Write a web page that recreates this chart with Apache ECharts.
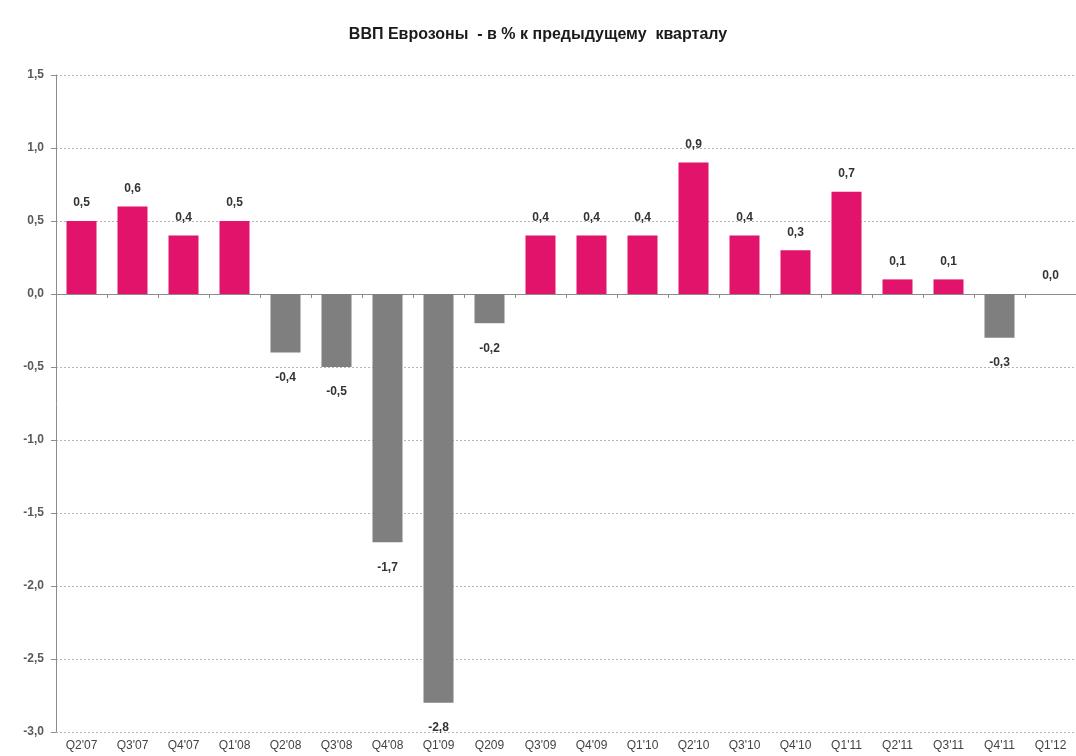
<!DOCTYPE html>
<html>
<head>
<meta charset="utf-8">
<script src="https://cdn.jsdelivr.net/npm/echarts@6/dist/echarts.min.js"></script>
<style>
  html, body { margin: 0; padding: 0; background: #fff; }
  #main { width: 1076px; height: 756px; }
</style>
</head>
<body>
<div id="main"></div>
<script>
// данные с картинки
var quarters = ["Q2'07", "Q3'07", "Q4'07", "Q1'08", "Q2'08", "Q3'08", "Q4'08", "Q1'09", "Q209",
    "Q3'09", "Q4'09", "Q1'10", "Q2'10", "Q3'10", "Q4'10", "Q1'11", "Q2'11", "Q3'11", "Q4'11", "Q1'12"];
var gdpChange = [0.5, 0.6, 0.4, 0.5, -0.4, -0.5, -1.7, -2.8, -0.2,
    0.4, 0.4, 0.4, 0.9, 0.4, 0.3, 0.7, 0.1, 0.1, -0.3, 0.0];

var pink = '#e2136a';
var grey = '#7f7f7f';

function fmt(v) {
    return v.toFixed(1).replace('.', ',');
}

var barData = gdpChange.map(function (v) {
    return {
        value: v,
        itemStyle: { color: v < 0 ? grey : pink },
        label: { position: v < 0 ? 'bottom' : 'top', distance: v < 0 ? 19 : 12 }
    };
});

var chart = echarts.init(document.getElementById('main'));

var option = {
    animation: false,
    title: {
        text: 'ВВП Еврозоны  - в % к предыдущему  кварталу',
        left: 'center',
        top: 22,
        textStyle: { fontFamily: 'Liberation Sans', fontSize: 16, fontWeight: 'bold', color: '#1a1a1a' }
    },
    grid: { left: 56, right: -12, top: 75, bottom: 24 },
    xAxis: [{
        type: 'category',
        data: quarters,
        position: 'bottom',
        axisLine: { show: false, onZero: false },
        axisTick: { show: false },
        axisLabel: {
            interval: 0,
            margin: 8,
            fontFamily: 'Liberation Sans',
            fontSize: 12,
            color: '#444'
        }
    }, {
        // линия нуля с засечками
        type: 'category',
        data: quarters,
        position: 'bottom',
        axisLine: { show: true, onZero: true, lineStyle: { color: '#8c8c8c', width: 1 } },
        axisTick: { show: true, inside: false, length: 4, lineStyle: { color: '#8c8c8c' } },
        axisLabel: { show: false }
    }],
    yAxis: {
        type: 'value',
        min: -3,
        max: 1.5,
        interval: 0.5,
        axisLine: { show: true, lineStyle: { color: '#8c8c8c', width: 1 } },
        axisTick: { show: true, length: 5, lineStyle: { color: '#8c8c8c' } },
        splitLine: { show: true, lineStyle: { color: '#b5b5b5', type: [2, 2] } },
        axisLabel: {
            margin: 12,
            fontFamily: 'Liberation Sans',
            fontSize: 12,
            fontWeight: 'bold',
            color: '#5a5a5a',
            formatter: function (v) { return fmt(v); }
        }
    },
    series: [{
        type: 'bar',
        data: barData,
        barWidth: 30,
        label: {
            show: true,
            fontFamily: 'Liberation Sans',
            fontSize: 12,
            fontWeight: 'bold',
            color: '#333',
            formatter: function (p) { return fmt(p.value); }
        }
    }]
};

chart.setOption(option);
</script>
</body>
</html>
